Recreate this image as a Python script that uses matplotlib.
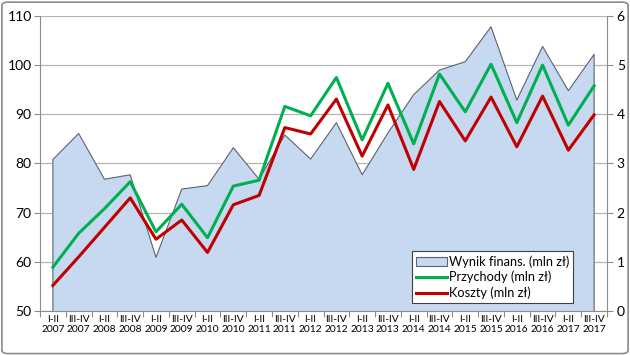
import matplotlib; matplotlib.use("Agg")
import numpy as np, matplotlib.pyplot as plt
from matplotlib.patches import Patch, FancyBboxPatch
from matplotlib.lines import Line2D

halves = ["I-II", "III-IV"]
years = list(range(2007, 2018))
labels = [h + "\n" + str(y) for y in years for h in halves]

# Wynik finans. (right axis, mln zl)
wynik = [3.08, 3.61, 2.68, 2.77, 1.09, 2.48, 2.55, 3.32, 2.68, 3.58, 3.09,
         3.83, 2.77, 3.62, 4.40, 4.90, 5.07, 5.78, 4.29, 5.38, 4.48, 5.22]
# Przychody / Koszty (left axis, mln zl)
przychody = [58.9, 65.8, 70.8, 76.3, 66.1, 71.7, 64.9, 75.4, 76.6, 91.6, 89.7,
             97.5, 84.8, 96.3, 84.0, 98.2, 90.5, 100.2, 88.3, 100.0, 87.8, 95.8]
koszty = [55.2, 61.0, 67.0, 73.0, 64.6, 68.5, 61.9, 71.6, 73.5, 87.3, 86.0,
          93.1, 81.5, 91.9, 78.8, 92.6, 84.6, 93.5, 83.4, 93.7, 82.7, 89.9]

plt.rcParams["font.family"] = ["Lato", "DejaVu Sans"]
fig = plt.figure(figsize=(6.3, 3.55), dpi=100)
ax = fig.add_axes([0.0635, 0.124, 0.9, 0.831])   # area, right-hand scale
ax2 = ax.twinx()                                    # lines, left-hand scale
x = np.arange(len(labels))

ax.set_axisbelow(True)
ax.fill_between(x, 0, wynik, facecolor="#c6d9f1", edgecolor="none", zorder=2)
ax.plot(np.r_[x[0], x, x[-1]], np.r_[0, wynik, 0], color="#5a6470", lw=0.8, zorder=3)
ax.set_ylim(0, 6); ax.set_xlim(-0.5, len(x) - 0.5)
ax.yaxis.tick_right()
ax.set_yticks(range(0, 7))
ax.grid(axis="y", color="#b4b4b4", lw=0.9)

ax2.plot(x, przychody, color="#00b050", lw=2.2, zorder=4)
ax2.plot(x, koszty, color="#c00000", lw=2.2, zorder=4)
ax2.set_ylim(50, 110)
ax2.yaxis.tick_left()
ax2.set_yticks(range(50, 111, 10))

for a in (ax, ax2):
    for sp in a.spines.values(): sp.set_visible(False)
    a.tick_params(axis="y", colors="#8c8c8c", labelcolor="black", labelsize=10, length=4, width=0.8)
for s in ("left", "right", "bottom"):
    ax2.spines[s].set_visible(True); ax2.spines[s].set_color("#8c8c8c")
ax2.tick_params(axis="y", pad=2)
ax.tick_params(axis="y", pad=3)

ax.set_xticks(x)
ax.set_xticklabels(labels, fontsize=7.4, linespacing=1.1)
ax.set_xticks(np.arange(-0.5, len(x), 1), minor=True)
ax.tick_params(axis="x", which="major", length=0, pad=3)
ax.tick_params(axis="x", which="minor", length=4, color="#8c8c8c", width=0.8)

hs = [Patch(facecolor="#c6d9f1", edgecolor="#5a6470", lw=0.8),
      Line2D([], [], color="#00b050", lw=2.2), Line2D([], [], color="#c00000", lw=2.2)]
leg = ax2.legend(hs, ["Wynik finans. (mln zł)", "Przychody (mln zł)", "Koszty (mln zł)"],
                 loc="lower right", bbox_to_anchor=(0.94, 0.027), fontsize=9.2,
                 frameon=True, fancybox=False, framealpha=1, edgecolor="#404040",
                 handlelength=2.5, handletextpad=0.1, borderpad=0.3, labelspacing=0.25,
                 borderaxespad=0)
leg.get_frame().set_linewidth(0.8)

fig.patches.append(FancyBboxPatch((0.003, 0.004), 0.994, 0.99, boxstyle="round,pad=0,rounding_size=0.01",
                                  transform=fig.transFigure, fill=False, edgecolor="#8c8c8c", lw=1.2))
fig.savefig("out.png", dpi=100)
